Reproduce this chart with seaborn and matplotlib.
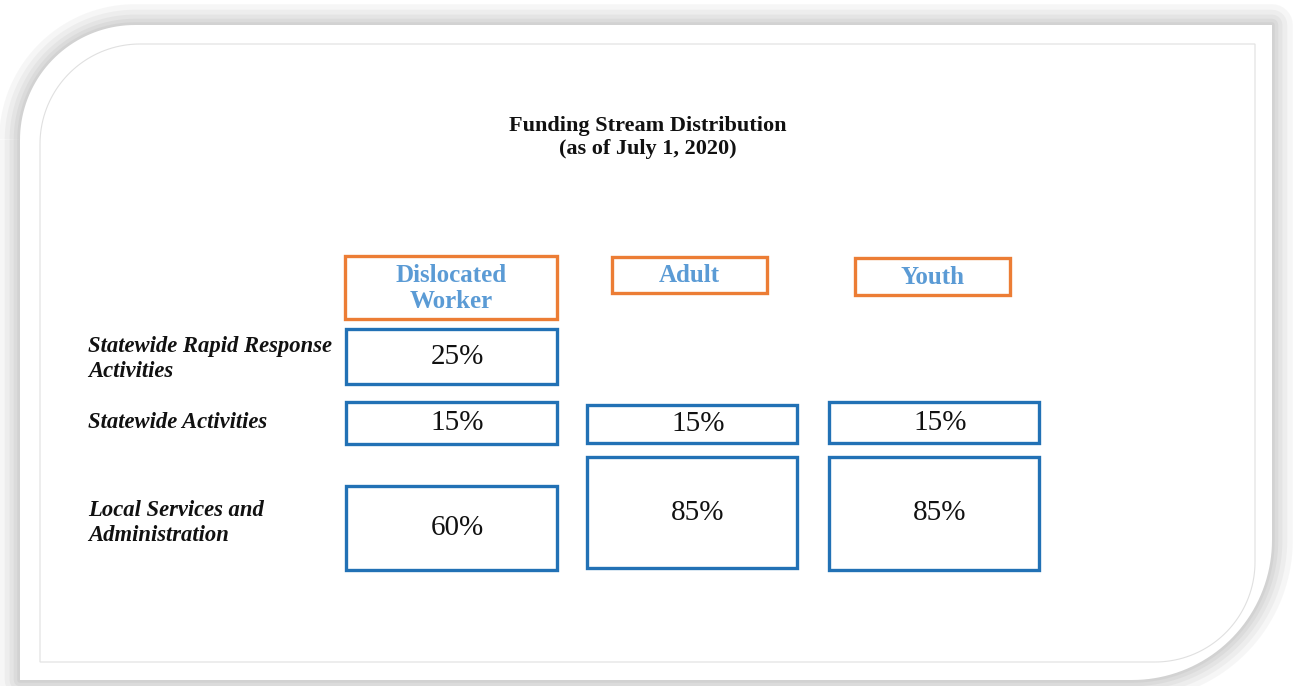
import numpy as np
import matplotlib
matplotlib.use("Agg")
import matplotlib.pyplot as plt
from matplotlib.path import Path
from matplotlib.patches import PathPatch, Rectangle
import seaborn as sns

# Chart content
title_lines = ["Funding Stream Distribution", "(as of July 1, 2020)"]
streams = ["Dislocated\nWorker", "Adult", "Youth"]
activities = ["Statewide Rapid Response\nActivities", "Statewide Activities", "Local Services and\nAdministration"]
rapid_response = [25, None, None]
statewide = [15, 15, 15]
local_services = [60, 85, 85]

# Layout (pixel coords, y grows downwards)
col_x = [(346, 557), (587, 797), (829, 1039)]
header_box = [(345, 557, 256, 319), (612, 767, 257, 293), (855, 1010, 258, 295)]
row_y = [[(329, 384), None, None],
         [(402, 444), (405, 443), (402, 443)],
         [(486, 570), (457, 568), (457, 570)]]
label_y = [359, 423, 523]

blue = "#2271b5"
orange = "#ec7d35"
header_blue = "#5b9bd5"

sns.set_style("white")
plt.rcParams['font.family'] = ['Liberation Serif', 'DejaVu Serif']

W, H = 1293, 686
fig = plt.figure(figsize=(W / 100, H / 100), dpi=100)
ax = fig.add_axes([0, 0, 1, 1])
ax.set_xlim(0, W)
ax.set_ylim(H, 0)
ax.axis("off")


def frame_path(x0, y0, x1, y1, r_tl, r_br, n=40):
    # rectangle with rounded top-left and bottom-right corners
    pts = []
    t = np.linspace(np.pi, 1.5 * np.pi, n)
    pts += list(zip(x0 + r_tl + r_tl * np.cos(t), y0 + r_tl + r_tl * np.sin(t)))
    pts += [(x1, y0)]
    t = np.linspace(0, 0.5 * np.pi, n)
    pts += list(zip(x1 - r_br + r_br * np.cos(t), y1 - r_br + r_br * np.sin(t)))
    pts += [(x0, y1)]
    pts.append(pts[0])
    return Path(pts)


# soft grey shadow around the card
outer = frame_path(20, 25, 1272, 680, 115, 140)
for lw, a in [(30, 0.07), (22, 0.08), (15, 0.09), (9, 0.1), (4, 0.1)]:
    ax.add_patch(PathPatch(outer, facecolor="none", edgecolor="#8c8c8c", lw=lw, alpha=a, joinstyle="round"))
ax.add_patch(PathPatch(outer, facecolor="white", edgecolor="none"))
inner = frame_path(40, 44, 1255, 662, 100, 100)
ax.add_patch(PathPatch(inner, facecolor="none", edgecolor="#e0e0e0", lw=0.8))

for line, y in zip(title_lines, [126, 149]):
    ax.text(648, y, line, ha="center", va="center", fontsize=16, fontweight="bold", color="#111111")

# column headers
for name, (x0, x1, y0, y1) in zip(streams, header_box):
    ax.add_patch(Rectangle((x0, y0), x1 - x0, y1 - y0, fill=False, edgecolor=orange, lw=2.4))
    ax.text((x0 + x1) / 2, (y0 + y1) / 2 + 1, name, ha="center", va="center", fontsize=18,
            fontweight="bold", color=header_blue, linespacing=1.12)

# row labels
for lab, y in zip(activities, label_y):
    ax.text(88, y, lab, ha="left", va="center", fontsize=16.3, fontweight="bold",
            fontstyle="italic", color="#111111", linespacing=1.3)

# value boxes
for r, vals in enumerate([rapid_response, statewide, local_services]):
    for c, v in enumerate(vals):
        if v is None:
            continue
        x0, x1 = col_x[c]
        y0, y1 = row_y[r][c]
        ax.add_patch(Rectangle((x0, y0), x1 - x0, y1 - y0, fill=False, edgecolor=blue, lw=2.4))
        ax.text((x0 + x1) / 2 + 6, (y0 + y1) / 2, f"{v}%", ha="center", va="center",
                fontsize=21, color="#111111")

fig.savefig("out.png", dpi=100, facecolor="white")
